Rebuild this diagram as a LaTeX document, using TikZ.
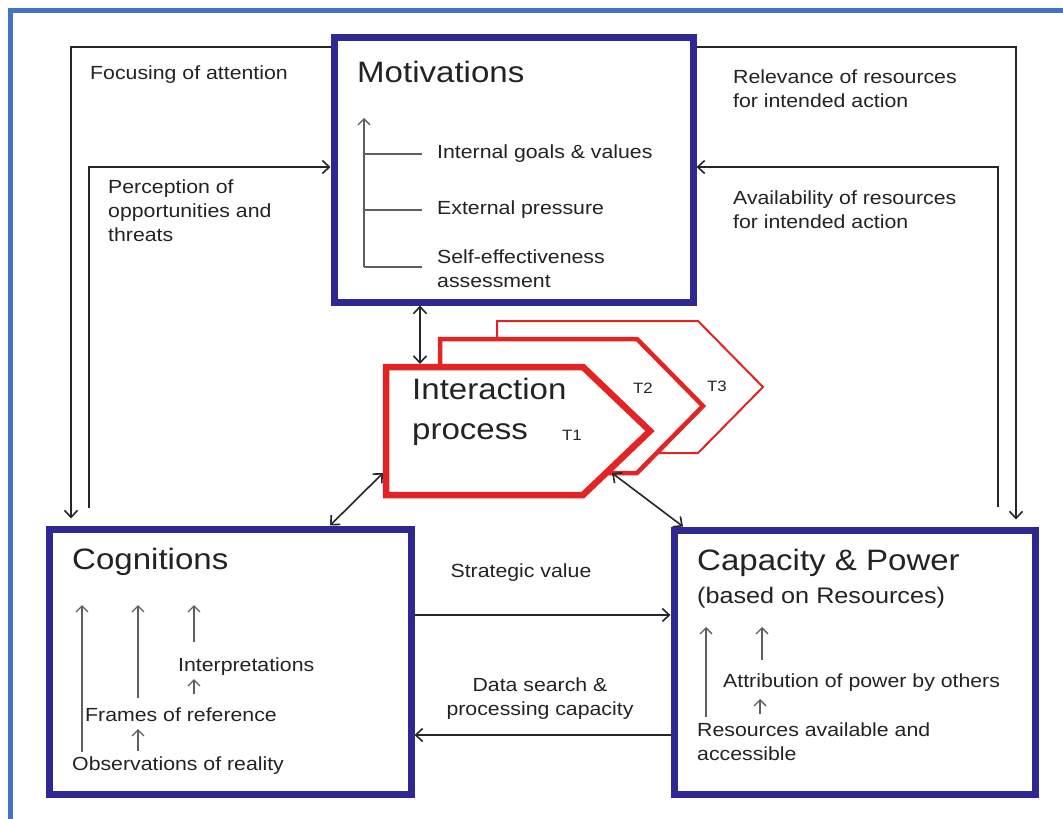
\documentclass[tikz,border=0pt]{standalone}
\usepackage{fontspec}
\setmainfont{Liberation Sans}[FakeStretch=1.12]
\usetikzlibrary{arrows.meta,calc}
\definecolor{boxblue}{RGB}{46,40,146}
\definecolor{ipred}{RGB}{226,36,36}
\definecolor{frameblue}{RGB}{68,114,196}
\definecolor{txt}{RGB}{35,35,35}
\definecolor{innergray}{RGB}{95,95,95}
\newcommand\fsm{\fontsize{19}{24}\selectfont}
\newcommand\ftl{\fontsize{29.5}{34}\selectfont}
\newcommand\fmd{\fontsize{22.5}{26}\selectfont}
\newcommand\fti{\fontsize{15}{17}\selectfont}
\tikzset{
  >={Straight Barb[length=7pt,width=13pt]},
  bigbox/.style={draw=boxblue, line width=7pt, rectangle, inner sep=0pt},
  lbl/.style={inner sep=0pt, anchor=west, align=left, text=txt, font=\fsm},
  ttl/.style={inner sep=0pt, anchor=west, align=left, text=txt, font=\ftl},
  conn/.style={line width=1.6pt, draw=black!85, ->},
  dconn/.style={line width=1.6pt, draw=black!85, <->},
  inarr/.style={line width=1.3pt, draw=innergray, -{Straight Barb[length=6pt,width=12pt]}},
  inline/.style={line width=1.3pt, draw=innergray},
  ipshape/.style={draw=ipred, fill=white, line join=miter},
}
\begin{document}
\begin{tikzpicture}[x=1pt,y=-1pt]
\useasboundingbox (0,0) rectangle (1063,819);
\fill[white] (0,0) rectangle (1063,819);
% outer frame (top and left visible)
\draw[frameblue, line width=5pt] (10,819) -- (10,10) -- (1063,10);

% main boxes
\node[bigbox, minimum width=359pt, minimum height=265pt] (mot) at (513.5,169.5) {};
\node[bigbox, minimum width=362pt, minimum height=265pt] (cog) at (230,661.5) {};
\node[bigbox, minimum width=361pt, minimum height=264pt] (cap) at (854.5,662) {};

% titles
\node[ttl] (motT) at (357,72) {Motivations};
\node[ttl] (cogT) at (72,562) {Cognitions};
\node[ttl] (capT) at (697,563) {Capacity \& Power};
\node[lbl, font=\fmd] (capS) at (697,598) {(based on Resources)};

% interaction process shapes
\draw[ipshape, line width=2pt] (497,321) -- (698,321) -- (763,387) -- (698,453) -- (497,453) -- cycle;
\draw[ipshape, line width=4.5pt] (440,339) -- (637,339) -- (703,406) -- (637,473) -- (440,473) -- cycle;
\draw[ipshape, line width=6.5pt] (386,367) -- (583,367) -- (650,431) -- (583,495) -- (386,495) -- cycle;
\node[ttl, font=\fontsize{29.5}{40}\selectfont] (ip) at (412,412) {Interaction\\process};
\node[inner sep=0pt, text=txt, font=\fti] (t1) at (572,435) {T1};
\node[inner sep=0pt, text=txt, font=\fti] (t2) at (643,388) {T2};
\node[inner sep=0pt, text=txt, font=\fti] (t3) at (717,386) {T3};

% connection coordinates on the interaction shape
\coordinate (ipn) at (420,364);
\coordinate (ipw) at (383,473);
\coordinate (ipe) at (612,473);
\coordinate (cn) at (330,0);
\coordinate (kn) at (683,0);

\draw[dconn] (ipn |- mot.south) -- (ipn);
\draw[dconn] (ipw) -- (cn |- cog.north);
\draw[dconn] (ipe) -- (kn |- cap.north);

% feedback loops, left
\coordinate (fa) at (71,47);
\coordinate (pa) at (89,167);
\draw[conn, shorten >=7pt] (fa -| mot.west) -- (fa) -- (fa |- cog.north);
\draw[conn, shorten <=18pt] (pa |- cog.north) -- (pa) -- (pa -| mot.west);
\node[lbl] (lfoc) at (90,75) {Focusing of attention};
\node[lbl] (lper) at (108,211) {Perception of\\opportunities and\\threats};

% feedback loops, right
\coordinate (ra) at (1016,47);
\coordinate (va) at (998,167);
\draw[conn, shorten >=7pt] (ra -| mot.east) -- (ra) -- (ra |- cap.north);
\draw[conn, shorten <=20pt] (va |- cap.north) -- (va) -- (va -| mot.east);
\node[lbl] (lrel) at (733,89) {Relevance of resources\\for intended action};
\node[lbl] (lava) at (733,210) {Availability of resources\\for intended action};

% horizontal links
\coordinate (sv) at (540,615);
\coordinate (ds) at (540,735);
\draw[conn] (sv -| cog.east) -- (sv -| cap.west);
\draw[conn] (ds -| cap.west) -- (ds -| cog.east);
\node[lbl, anchor=center] (lstr) at (521,573) {Strategic value};
\node[lbl, anchor=center, align=center] (ldat) at (540,699) {Data search \&\\processing capacity};

% Motivations interior
\node[lbl] (mi1) at (437,154) {Internal goals \& values};
\node[lbl] (mi2) at (437,210) {External pressure};
\node[lbl] (mi3) at (437,269) {Self-effectiveness\\assessment};
\coordinate (mv) at (364,267);
\draw[inarr] (mv) -- (364,118);
\draw[inline] (mi1.west -| mv) -- ([xshift=-15pt]mi1.west);
\draw[inline] (mi2.west -| mv) -- ([xshift=-15pt]mi2.west);
\draw[inline] (mv) -- (422,267);

% Cognitions interior
\node[lbl] (cobs) at (72,766) {Observations of reality};
\node[lbl] (cfra) at (85,715) {Frames of reference};
\node[lbl] (cint) at (178,667) {Interpretations};
\coordinate (ca1) at (82,752);
\coordinate (ca2) at (138,698);
\coordinate (ca3) at (194,642);
\draw[inarr] (ca1) -- (82,605);
\draw[inarr] (ca2) -- (138,605);
\draw[inarr] (ca3) -- (194,605);
\draw[inarr] (138,751) -- (138,729);
\draw[inarr] (194,694) -- (194,679);

% Capacity interior
\node[lbl] (kres) at (697,742) {Resources available and\\accessible};
\node[lbl] (katt) at (723,683) {Attribution of power by others};
\draw[inarr] (706,717) -- (706,627);
\draw[inarr] (762,660) -- (762,627);
\draw[inarr] (760,714) -- (760,699);
\end{tikzpicture}
\end{document}
